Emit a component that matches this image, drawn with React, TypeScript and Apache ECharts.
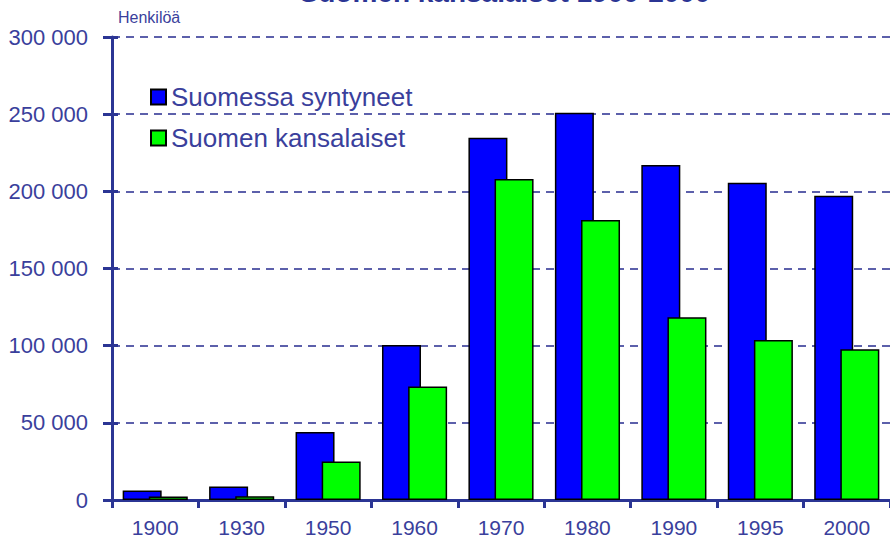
import React, { useEffect, useRef } from "react";
import * as echarts from "echarts";

const categories = ["1900", "1930", "1950", "1960", "1970", "1980", "1990", "1995", "2000"];
const bornInFinland = [6100, 8700, 44000, 100500, 234700, 250900, 217000, 205600, 197200];
const finnishCitizens = [2200, 2400, 25000, 73500, 208000, 181500, 118400, 103700, 97700];
const seriesNames = ["Suomessa syntyneet", "Suomen kansalaiset"];
const titleText = "Suomen kansalaiset 1900-2000";
const unitText = "Henkilöä";

const FONT = "'Liberation Sans', Arial, sans-serif";
const NAVY = "#2B3594";
const TEXT = "#3A3F9C";
const GRID = "#5C60AB";

export default function App() {
  const ref = useRef<HTMLDivElement>(null);
  useEffect(() => {
    if (!ref.current) return;
    const chart = echarts.init(ref.current, null, { renderer: "svg" });
    const fmt = (v: number) => String(v).replace(/\B(?=(\d{3})+(?!\d))/g, " ");
    chart.setOption({
      animation: false,
      backgroundColor: "#ffffff",
      textStyle: { fontFamily: FONT },
      grid: { left: 112, top: 37, bottom: 45, right: -10, containLabel: false },
      legend: {
        left: 150,
        top: 84,
        padding: 0,
        orient: "vertical",
        itemWidth: 15,
        itemHeight: 15,
        itemGap: 15,
        icon: "rect",
        textStyle: { fontSize: 26, color: TEXT, fontFamily: FONT },
        data: seriesNames,
      },
      graphic: [
        {
          type: "text",
          style: {
            text: titleText,
            x: 505,
            y: -8,
            textAlign: "center",
            textVerticalAlign: "middle",
            fontSize: 28,
            fontWeight: "bold",
            fill: NAVY,
            fontFamily: FONT,
          },
        },
        {
          type: "text",
          style: {
            text: unitText,
            x: 118,
            y: 9,
            textAlign: "left",
            textVerticalAlign: "top",
            fontSize: 16,
            fill: TEXT,
            fontFamily: FONT,
          },
        },
      ],
      xAxis: [
        {
          type: "category",
          data: categories,
          axisLine: { lineStyle: { color: NAVY, width: 3 } },
          axisTick: { show: true, length: 8, lineStyle: { color: NAVY, width: 3 } },
          axisLabel: { fontSize: 21, color: TEXT, margin: 17, fontFamily: FONT },
          splitLine: { show: false },
        },
        {
          type: "category",
          data: categories,
          position: "top",
          axisLine: { lineStyle: { color: NAVY, width: 3 } },
          axisTick: { show: false },
          axisLabel: { show: false },
          splitLine: { show: false },
        },
      ],
      yAxis: [
        {
          type: "value",
          min: 0,
          max: 300000,
          interval: 50000,
          axisLine: { show: true, lineStyle: { color: NAVY, width: 3 } },
          axisTick: { show: true, length: 9, lineStyle: { color: NAVY, width: 3 } },
          axisLabel: { fontSize: 22, color: TEXT, margin: 24, formatter: fmt, fontFamily: FONT },
          splitLine: { show: true, lineStyle: { color: GRID, width: 2, type: [8, 6] } },
        },
        {
          type: "value",
          min: 0,
          max: 300000,
          interval: 50000,
          position: "left",
          axisLine: { show: false },
          axisTick: { show: true, inside: true, length: 6, lineStyle: { color: NAVY, width: 3 } },
          axisLabel: { show: false },
          splitLine: { show: false },
        },
      ],
      series: [
        {
          name: seriesNames[0],
          type: "bar",
          data: bornInFinland,
          barWidth: 39,
          barGap: "-33%",
          itemStyle: { color: "#0000FF", borderColor: "#000000", borderWidth: 1.5 },
        },
        {
          name: seriesNames[1],
          type: "bar",
          data: finnishCitizens,
          barWidth: 39,
          barGap: "-33%",
          itemStyle: { color: "#00FF00", borderColor: "#000000", borderWidth: 1.5 },
        },
      ],
    });
    return () => chart.dispose();
  }, []);
  return <div ref={ref} style={{ width: 890, height: 545, position: "absolute", left: 0, top: 0 }} />;
}
